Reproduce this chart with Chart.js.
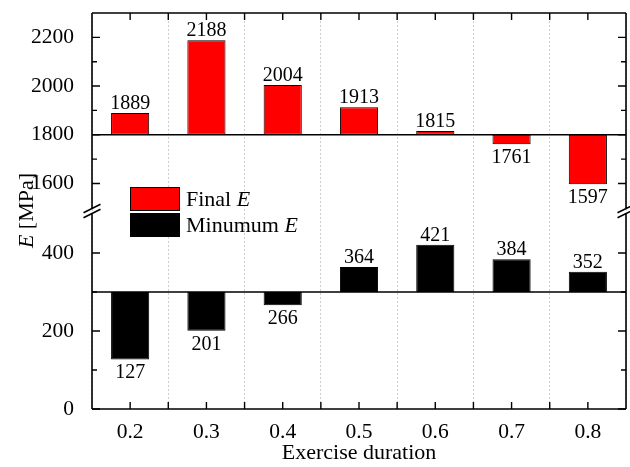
<!DOCTYPE html>
<html>
<head>
<meta charset="utf-8">
<script src="https://cdn.jsdelivr.net/npm/chart.js@4.4.1/dist/chart.umd.min.js"></script>
<style>
  html, body { margin: 0; padding: 0; background: #fff; }
</style>
</head>
<body>
<canvas id="dataChart" width="630" height="467"></canvas>
<script>
const durations = ['0.2', '0.3', '0.4', '0.5', '0.6', '0.7', '0.8'];
const finalE = [1889, 2188, 2004, 1913, 1815, 1761, 1597];
const minE = [127, 201, 266, 364, 421, 384, 352];
const finalBase = 1800;
const minBase = 300;
const topTicks = [1600, 1800, 2000, 2200];
const topMinor = [1700, 1900, 2100];
const botTicks = [0, 200, 400];
const botMinor = [100, 300];
const legendNames = ['Final', 'Minumum'];

const serif = 'Liberation Serif';
Chart.defaults.font.family = serif;
Chart.defaults.color = '#000';

const ctx = document.getElementById('dataChart');

// draws text pieces, some italic, starting at x
function mixedText(g, parts, x, y, size, align) {
    let total = 0;
    parts.forEach(p => {
        g.font = (p.it ? 'italic ' : '') + size + 'px "' + serif + '"';
        p.w = g.measureText(p.t).width;
        total += p.w;
    });
    let cx = align === 'center' ? x - total / 2 : x;
    g.textAlign = 'left';
    parts.forEach(p => {
        g.font = (p.it ? 'italic ' : '') + size + 'px "' + serif + '"';
        g.fillText(p.t, cx, y);
        cx += p.w;
    });
}

const extras = {
    id: 'extras',
    afterDatasetsDraw(chart) {
        const g = chart.ctx;
        const a = chart.chartArea;
        const x = chart.scales.x;
        const yTop = chart.scales.yTop;
        const yBot = chart.scales.yBot;
        g.save();
        g.strokeStyle = '#000';
        g.fillStyle = '#000';

        // baselines
        g.lineWidth = 1.3;
        g.beginPath();
        [yTop.getPixelForValue(finalBase), yBot.getPixelForValue(minBase)].forEach(py => {
            g.moveTo(a.left, py); g.lineTo(a.right, py);
        });
        g.stroke();

        // frame with break gap
        const brk = yTop.bottom;
        const gapTop = brk + 0.5, gapBot = brk + 5.5;
        g.lineWidth = 1.6;
        g.beginPath();
        g.moveTo(a.left, a.top); g.lineTo(a.right, a.top);
        g.moveTo(a.left, a.bottom); g.lineTo(a.right, a.bottom);
        [a.left, a.right].forEach(px => {
            g.moveTo(px, a.top); g.lineTo(px, gapTop);
            g.moveTo(px, gapBot); g.lineTo(px, a.bottom);
        });
        // break marks
        [a.left, a.right].forEach(px => {
            [gapTop, gapBot].forEach(py => {
                g.moveTo(px - 8.5, py + 4.5); g.lineTo(px + 8.5, py - 4);
            });
        });
        g.stroke();

        // y ticks, inward on both sides
        g.lineWidth = 1.4;
        g.beginPath();
        const yt = (scale, vals, len) => vals.forEach(v => {
            const py = scale.getPixelForValue(v);
            g.moveTo(a.left, py); g.lineTo(a.left + len, py);
            g.moveTo(a.right, py); g.lineTo(a.right - len, py);
        });
        yt(yTop, topTicks, 8); yt(yTop, topMinor, 5);
        yt(yBot, botTicks, 8); yt(yBot, botMinor, 5);
        // x ticks at centers and boundaries, top and bottom
        durations.forEach((d, i) => {
            const px = x.getPixelForValue(i);
            const half = (x.getPixelForValue(1) - x.getPixelForValue(0)) / 2;
            [px, px + half].forEach(q => {
                if (q >= a.right - 1) return;
                g.moveTo(q, a.bottom); g.lineTo(q, a.bottom - 7);
                g.moveTo(q, a.top); g.lineTo(q, a.top + 7);
            });
        });
        g.stroke();

        // value labels
        g.textAlign = 'center';
        g.textBaseline = 'alphabetic';
        g.font = '20px "' + serif + '"';
        chart.data.datasets.forEach((ds, di) => {
            const vals = di === 0 ? finalE : minE;
            const base = di === 0 ? finalBase : minBase;
            chart.getDatasetMeta(di).data.forEach((el, i) => {
                const v = vals[i];
                const hi = Math.min(el.y, el.base);
                const lo = Math.max(el.y, el.base);
                const py = v >= base ? hi - 4 : lo + 19;
                g.fillText(String(v), el.x, py);
            });
        });

        // legend
        const boxes = [{y: 187, c: '#ff0000'}, {y: 213, c: '#000000'}];
        boxes.forEach((b, i) => {
            g.fillStyle = b.c;
            g.fillRect(130, b.y, 50, 24);
            g.lineWidth = 1;
            g.strokeStyle = '#000';
            g.strokeRect(130.5, b.y + 0.5, 49, 23);
            g.fillStyle = '#000';
            g.textBaseline = 'alphabetic';
            mixedText(g, [{t: legendNames[i] + ' ', it: false}, {t: 'E', it: true}], 186, b.y + 19, 22, 'left');
        });

        // y title
        g.save();
        g.translate(33, 210.5);
        g.rotate(-Math.PI / 2);
        g.textBaseline = 'alphabetic';
        mixedText(g, [{t: 'E', it: true}, {t: ' [MPa]', it: false}], 0, 0, 22, 'center');
        g.restore();

        g.restore();
    }
};

const barStyle = {
    borderColor: '#000',
    borderWidth: 1,
    borderSkipped: false,
    grouped: false,
    barPercentage: 0.5,
    categoryPercentage: 1
};

var chartData = {
    labels: durations,
    datasets: [
        Object.assign({
            label: 'Final E',
            data: finalE.map(v => [finalBase, v]),
            yAxisID: 'yTop',
            backgroundColor: '#ff0000'
        }, barStyle),
        Object.assign({
            label: 'Minumum E',
            data: minE.map(v => [minBase, v]),
            yAxisID: 'yBot',
            backgroundColor: '#000000'
        }, barStyle)
    ]
};

const yTickFont = { size: 21.5 };
const plain = v => String(v);
const fitY = s => { s.width = 92; s.paddingTop = 0; s.paddingBottom = 0; };

var chartOptions = {
    responsive: false,
    animation: false,
    layout: { padding: { top: 13, right: 4, left: 0, bottom: 0 } },
    plugins: {
        legend: { display: false },
        tooltip: { enabled: false }
    },
    scales: {
        x: {
            grid: { offset: true, color: '#cdcdcd', drawTicks: false, lineWidth: 1 },
            border: { display: false, dash: [2, 2] },
            ticks: { padding: 10, font: { size: 21.5 }, color: '#000' },
            title: { display: true, text: 'Exercise duration', font: { size: 22 }, color: '#000', padding: { top: 0, bottom: 1 } },
            afterFit(s) { s.height = 58; s.paddingLeft = 0; s.paddingRight = 0; }
        },
        // first stacked axis goes to the bottom
        yBot: {
            type: 'linear',
            position: 'left',
            stack: 'E',
            stackWeight: 201.2,
            min: 0,
            max: 516,
            afterBuildTicks(s) { s.ticks = botTicks.map(v => ({ value: v })); },
            grid: { display: false },
            border: { display: false },
            ticks: { padding: 10, font: yTickFont, color: '#000', callback: plain },
            afterFit: fitY
        },
        yTop: {
            type: 'linear',
            position: 'left',
            stack: 'E',
            stackWeight: 194.8,
            min: 1500,
            max: 2300,
            afterBuildTicks(s) { s.ticks = topTicks.map(v => ({ value: v })); },
            grid: { display: false },
            border: { display: false },
            ticks: { padding: 10, font: yTickFont, color: '#000', callback: plain },
            afterFit: fitY
        }
    }
};

var myChart = new Chart(ctx, {
    type: 'bar',
    data: chartData,
    options: chartOptions,
    plugins: [extras]
});
</script>
</body>
</html>
